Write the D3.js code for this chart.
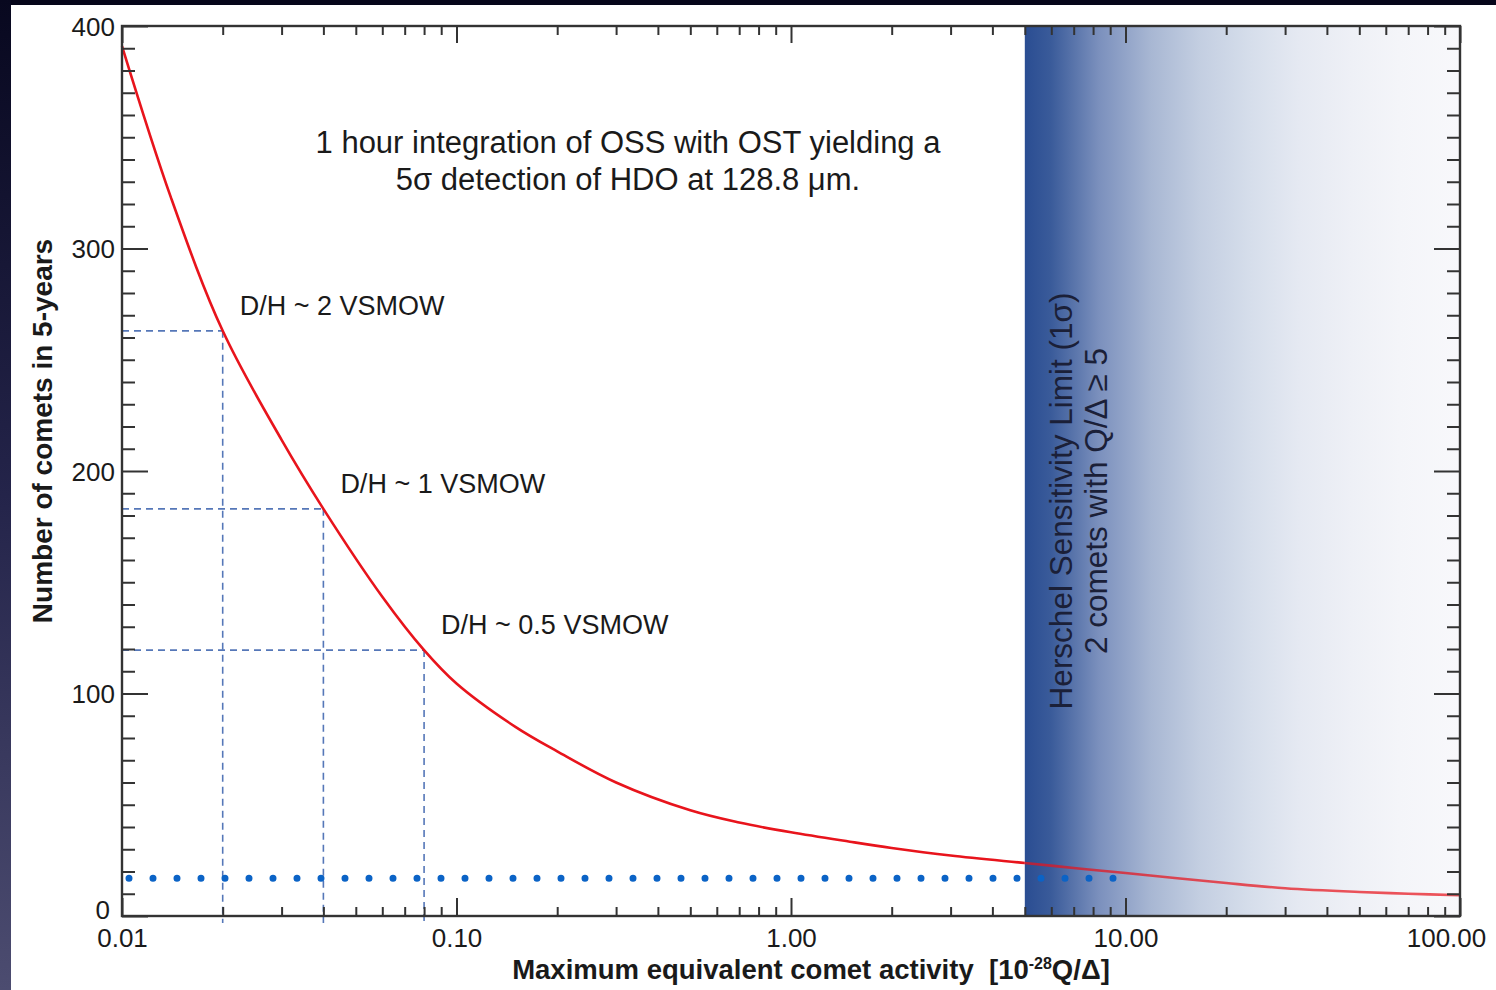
<!DOCTYPE html>
<html>
<head>
<meta charset="utf-8">
<script src="https://cdn.jsdelivr.net/npm/d3@7"></script>
<style>
  html, body { margin: 0; padding: 0; background: #07071c; }
  svg { display: block; }
  text { font-family: "Liberation Sans", Arial, Helvetica, sans-serif; fill: #1a1a1a; }
</style>
</head>
<body>
<svg id="chart" width="1496" height="990"></svg>
<script>
// Number of comets reachable in 5 years versus limiting comet activity
const activity = [0.01, 0.014, 0.02, 0.03, 0.04, 0.06, 0.08, 0.1, 0.15, 0.2, 0.3, 0.5, 0.7, 1, 1.5, 2, 3, 5, 7, 10, 20, 30, 50, 70, 100];
const comets   = [391, 323, 263, 214, 183, 143.5, 119.5, 104.5, 85, 74, 60, 47.5, 42, 37.6, 33.4, 30.6, 27.2, 23.8, 21.6, 19.3, 14.8, 12.5, 10.8, 10, 9.3];

// D/H reference points marked with dashed guides
const refActivity = [0.02, 0.04, 0.08];
const refComets   = [263, 183, 119.5];
const refLabels   = ["D/H ~ 2 VSMOW", "D/H ~ 1 VSMOW", "D/H ~ 0.5 VSMOW"];

// Herschel sensitivity band and its caption
const herschelRange = [5, 100];
const herschelLines = ["Herschel Sensitivity Limit (1\u03c3)", "2 comets with Q/\u0394 \u2265 5"];

// Dotted floor level
const floorComets = 17;
const floorRange  = [0.01, 9.5];

// Axis ticks and titles
const xTickValues = [0.01, 0.1, 1, 10, 100];
const xTickLabels = ["0.01", "0.10", "1.00", "10.00", "100.00"];
const yTickValues = [0, 100, 200, 300, 400];
const yTickLabels = ["0", "100", "200", "300", "400"];
const titleLines  = ["1 hour integration of OSS with OST yielding a", "5\u03c3 detection of HDO at 128.8 \u03bcm."];
const yTitle = "Number of comets in 5-years";

const W = 1496, H = 990;
const svg = d3.select("#chart");
const defs = svg.append("defs");

const x = d3.scaleLog().domain([0.01, 100]).range([122, 1460]);
const y = d3.scaleLinear().domain([0, 400]).range([916, 26]);
const [x0, x1] = x.range();
const [yb, yt] = y.range();

// ---- page frame ----
svg.append("rect").attr("width", W).attr("height", H).attr("fill", "#06061a");
const side = defs.append("linearGradient").attr("id", "side").attr("x1", 0).attr("y1", 0).attr("x2", 0).attr("y2", 1);
side.append("stop").attr("offset", 0).attr("stop-color", "#08081f");
side.append("stop").attr("offset", 0.5).attr("stop-color", "#24244a");
side.append("stop").attr("offset", 1).attr("stop-color", "#4c4c70");
svg.append("rect").attr("x", 0).attr("y", 0).attr("width", 11).attr("height", H).attr("fill", "url(#side)");
svg.append("rect").attr("x", 11).attr("y", 5).attr("width", W - 11).attr("height", H - 5).attr("fill", "#ffffff");

// ---- Herschel band ----
const band = defs.append("linearGradient").attr("id", "band").attr("x1", 0).attr("y1", 0).attr("x2", 1).attr("y2", 0);
[[0, "#2a4d92"], [0.06, "#3a5b9a"], [0.17, "#7b90bd"], [0.29, "#a8b7d3"], [0.40, "#c3cee1"],
 [0.52, "#d6deeb"], [0.63, "#e5e9f2"], [0.75, "#eef0f6"], [0.86, "#f4f5f9"], [1, "#f8f8fb"]]
  .forEach(([o, c]) => band.append("stop").attr("offset", o).attr("stop-color", c));
svg.append("rect")
  .attr("x", x(herschelRange[0])).attr("y", yt)
  .attr("width", x(herschelRange[1]) - x(herschelRange[0])).attr("height", yb - yt)
  .attr("fill", "url(#band)");

const bandText = svg.append("g").attr("transform", "translate(0,501)");
herschelLines.forEach((t, i) => {
  bandText.append("text")
    .attr("transform", `translate(${1072 + i * 35},0) rotate(-90)`)
    .attr("text-anchor", "middle")
    .attr("font-size", 31.5)
    .style("fill", "#1b2038")
    .text(t);
});

// ---- dashed guides ----
const guideColor = "#5577b8";
refActivity.forEach((a, i) => {
  svg.append("line")
    .attr("x1", x0).attr("x2", x(a))
    .attr("y1", y(refComets[i])).attr("y2", y(refComets[i]))
    .attr("stroke", guideColor).attr("stroke-width", 1.6).attr("stroke-dasharray", "7,5");
  svg.append("line")
    .attr("x1", x(a)).attr("x2", x(a))
    .attr("y1", y(refComets[i])).attr("y2", yb + 7)
    .attr("stroke", guideColor).attr("stroke-width", 1.6).attr("stroke-dasharray", "7,5");
  svg.append("text")
    .attr("x", x(a) + 17).attr("y", y(refComets[i]) - 16)
    .attr("font-size", 27)
    .text(refLabels[i]);
});

// ---- curve ----
const pts = activity.map((a, i) => [a, comets[i]]);
const line = d3.line().x(d => x(d[0])).y(d => y(d[1])).curve(d3.curveCatmullRom.alpha(0.5));

defs.append("clipPath").attr("id", "clipLeft").append("rect")
  .attr("x", 0).attr("y", 0).attr("width", x(herschelRange[0])).attr("height", H);
defs.append("clipPath").attr("id", "clipRight").append("rect")
  .attr("x", x(herschelRange[0])).attr("y", 0).attr("width", W).attr("height", H);

svg.append("path").datum(pts).attr("d", line)
  .attr("fill", "none").attr("stroke", "#e8141c").attr("stroke-width", 2.6)
  .attr("clip-path", "url(#clipLeft)");
svg.append("path").datum(pts).attr("d", line)
  .attr("fill", "none").attr("stroke", "#e8141c").attr("stroke-width", 2.6)
  .attr("opacity", 0.72)
  .attr("clip-path", "url(#clipRight)");

// ---- dotted floor ----
svg.append("line")
  .attr("x1", x(floorRange[0])).attr("x2", x(floorRange[1]))
  .attr("y1", y(floorComets)).attr("y2", y(floorComets))
  .attr("stroke", "#0b63c6").attr("stroke-width", 7)
  .attr("stroke-linecap", "round")
  .attr("stroke-dasharray", "0,24").attr("stroke-dashoffset", 17);

// ---- axes ----
const axisColor = "#333333";
const allX = x.ticks();
const majorX = allX.filter(d => Math.abs(Math.log10(d) - Math.round(Math.log10(d))) < 1e-9);
const minorX = allX.filter(d => !majorX.includes(d));
const minorY = d3.range(0, 401, 10).filter(d => d % 100 !== 0);

function tickLayer(axis, tx, ty) {
  const g = svg.append("g").attr("transform", `translate(${tx},${ty})`).call(axis);
  g.select(".domain").remove();
  g.selectAll(".tick line").attr("stroke", axisColor).attr("stroke-width", 2);
  g.selectAll(".tick text").remove();
  return g;
}
// bottom and top
tickLayer(d3.axisTop(x).tickValues(minorX).tickSize(9), 0, yb);
tickLayer(d3.axisTop(x).tickValues(majorX).tickSize(18), 0, yb);
tickLayer(d3.axisBottom(x).tickValues(minorX).tickSize(9), 0, yt);
tickLayer(d3.axisBottom(x).tickValues(majorX).tickSize(17), 0, yt);
// left and right
tickLayer(d3.axisRight(y).tickValues(minorY).tickSize(13), x0, 0);
tickLayer(d3.axisRight(y).tickValues(yTickValues).tickSize(26), x0, 0);
tickLayer(d3.axisLeft(y).tickValues(minorY).tickSize(13), x1, 0);
tickLayer(d3.axisLeft(y).tickValues(yTickValues).tickSize(26), x1, 0);

svg.append("rect")
  .attr("x", x0).attr("y", yt).attr("width", x1 - x0).attr("height", yb - yt)
  .attr("fill", "none").attr("stroke", axisColor).attr("stroke-width", 2.4);

// tick labels
const xl = svg.append("g").attr("transform", `translate(0,${yb})`)
  .call(d3.axisBottom(x).tickValues(xTickValues).tickSize(0).tickPadding(12.5)
        .tickFormat((d, i) => xTickLabels[i]));
xl.select(".domain").remove();
xl.selectAll("text").attr("font-size", 26).attr("font-family", null).style("fill", "#1a1a1a");
xl.selectAll("text").filter((d, i) => i === xTickValues.length - 1).attr("x", -14);

const yl = svg.append("g").attr("transform", `translate(${x0},0)`)
  .call(d3.axisLeft(y).tickValues(yTickValues).tickSize(0).tickPadding(7)
        .tickFormat((d, i) => yTickLabels[i]));
yl.select(".domain").remove();
yl.selectAll("text").attr("font-size", 26).attr("font-family", null).attr("dy", "0.36em").style("fill", "#1a1a1a");
// lift the zero label clear of the x-axis labels
yl.selectAll("text").filter(d => d === 0).attr("y", -7).attr("x", -12);

// ---- titles ----
titleLines.forEach((t, i) => {
  svg.append("text")
    .attr("x", 628).attr("y", 153 + i * 37)
    .attr("text-anchor", "middle").attr("font-size", 31)
    .text(t);
});

svg.append("text")
  .attr("transform", "translate(52,431) rotate(-90)")
  .attr("text-anchor", "middle").attr("font-size", 28).attr("font-weight", "bold")
  .text(yTitle);

const xt = svg.append("text")
  .attr("x", 811).attr("y", 979)
  .attr("text-anchor", "middle").attr("font-size", 27.5).attr("font-weight", "bold");
xt.append("tspan").text("Maximum equivalent comet activity\u00a0\u00a0[10");
xt.append("tspan").attr("font-size", 16).attr("dy", -10).text("-28");
xt.append("tspan").attr("dy", 10).text("Q/\u0394]");
</script>
</body>
</html>
